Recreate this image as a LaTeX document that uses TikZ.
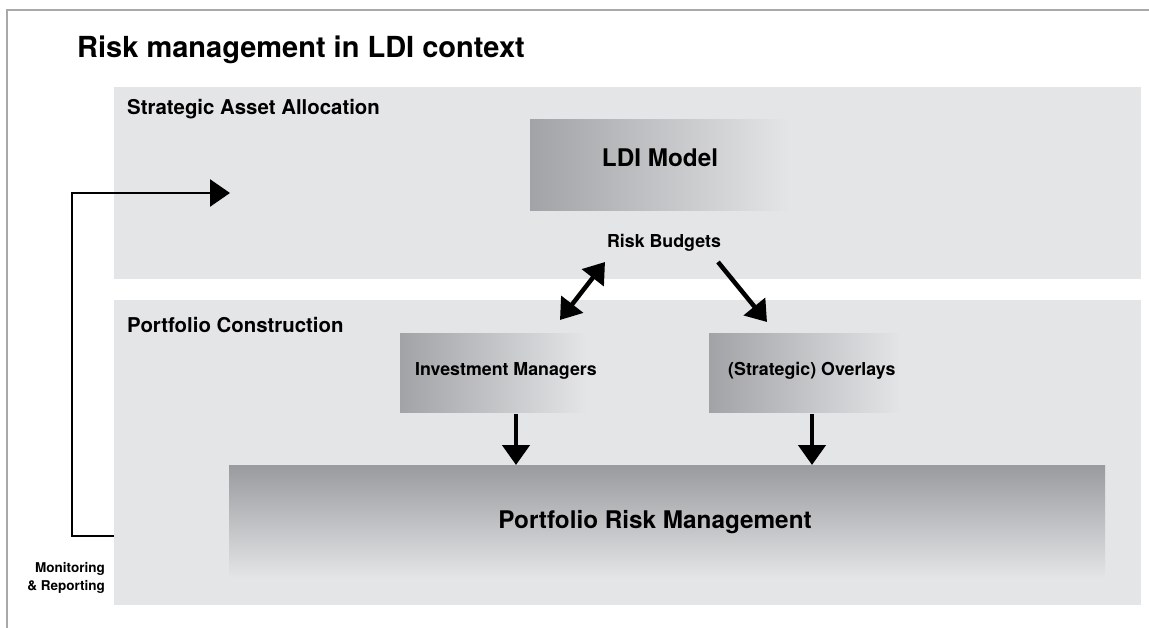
\documentclass[tikz,border=0pt]{standalone}
\usepackage{fontspec}
\setmainfont{TeX Gyre Heros}
\usepackage{xcolor}
\usetikzlibrary{arrows.meta, positioning}
\definecolor{panelgray}{HTML}{E4E5E7}
\definecolor{boxgray}{HTML}{A2A3A6}
\definecolor{framegray}{HTML}{A9A9A9}

\begin{document}
\begin{tikzpicture}[x=1pt, y=-1pt,
        panel/.style={fill=panelgray, anchor=north west, inner sep=0pt},
        hfade/.style={left color=boxgray, right color=panelgray, anchor=north west, inner sep=0pt},
        vfade/.style={top color=boxgray!95!black, bottom color=panelgray, anchor=north west, inner sep=0pt},
        paneltext/.style={anchor=base west, inner sep=0pt, font=\fontsize{20.4}{24}\selectfont\bfseries},
        boxtext/.style={inner sep=0pt, font=\fontsize{17.8}{21}\selectfont\bfseries},
        bigtext/.style={anchor=base, inner sep=0pt, font=\fontsize{24.3}{29}\selectfont\bfseries},
        bigarrow/.style={-{Triangle[length=20pt, width=27pt]}, line width=4.5pt},
        dblarrow/.style={{Triangle[length=20pt, width=27pt]}-{Triangle[length=20pt, width=27pt]}, line width=4.5pt},
        fbline/.style={-{Triangle[length=20pt, width=27pt]}, line width=2.5pt}]
        \useasboundingbox (0,0) rectangle (1149,628);
        % frame
        \draw[framegray, line width=2pt] (7,628) -- (7,10) -- (1149,10);
        \node[anchor=base west, inner sep=0pt, font=\fontsize{29}{34}\selectfont\bfseries] (title) at (77,58) {Risk management in LDI context};
        % panels
        \node[panel, minimum width=1027pt, minimum height=192pt] (saa) at (114,87) {};
        \node[panel, minimum width=1027pt, minimum height=305pt] (pc) at (114,300) {};
        \node[paneltext] (saalabel) at (127,115) {Strategic Asset Allocation};
        \node[paneltext] (pclabel) at (127,333) {Portfolio Construction};
        % boxes
        \node[hfade, minimum width=260pt, minimum height=91pt] (ldi) at (530,119) {};
        \node[bigtext] (ldilabel) at (660,167) {LDI Model};
        \node[boxtext, anchor=base] (budgets) at (664,248) {Risk Budgets};
        \node[hfade, minimum width=187pt, minimum height=79pt] (im) at (400,333) {};
        \node[boxtext, anchor=base west] (imlabel) at (415,376) {Investment Managers};
        \node[hfade, minimum width=192pt, minimum height=79pt] (ov) at (709,333) {};
        \node[boxtext, anchor=base west] (ovlabel) at (728,376) {(Strategic) Overlays};
        \node[vfade, minimum width=876pt, minimum height=113pt] (prm) at (229,465) {};
        \node[bigtext] (prmlabel) at (655,528) {Portfolio Risk Management};
        \node[anchor=east, align=right, inner sep=0pt, font=\fontsize{13.5}{17.3}\selectfont\bfseries] (mr) at (105,578) {Monitoring\\\& Reporting};
        % arrows
        \coordinate (rbLeft) at (605,262);
        \coordinate (imIn) at (560,320);
        \coordinate (rbRight) at (718,262);
        \coordinate (ovIn) at (767,322);
        \coordinate (imOut) at (516,414);
        \coordinate (ovOut) at (812,414);
        \coordinate (fbStart) at (114,536);
        \coordinate (fbEnd) at (230,193);
        \draw[dblarrow] (imIn) -- (rbLeft);
        \draw[bigarrow] (rbRight) -- (ovIn);
        \draw[bigarrow] (imOut) -- (imOut |- prm.north);
        \draw[bigarrow] (ovOut) -- (ovOut |- prm.north);
        \draw[fbline] (fbStart) -- ++(-42,0) |- (fbEnd);
\end{tikzpicture}
\end{document}
